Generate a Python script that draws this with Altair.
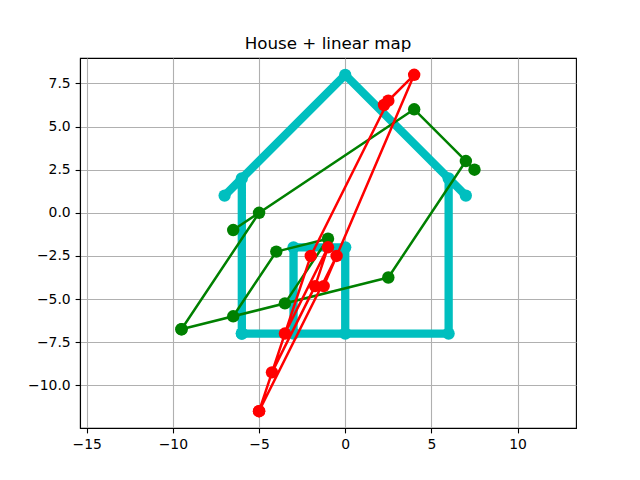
import altair as alt
import pandas as pd

house_x = [-6, -6, -7, 0, 7, 6, 6, -3, -3, 0, 0, -6]
house_y = [-7, 2, 1, 8, 1, 2, -7, -7, -2, -2, -7, -7]

green_x = [-9.5, -5, -6.5, 4, 7.5, 7, 2.5, -6.5, -4, -1, -3.5, -9.5]
green_y = [-6.75, 0, -1, 6, 2.5, 3, -3.75, -6, -2.25, -1.5, -5.25, -6.75]

red_x = [-5, -0.5, -1.25, 4, 2.25, 2.5, -2, -4.25, -1.75, -1, -3.5, -5]
red_y = [-11.5, -2.5, -4.25, 8, 6.25, 6.5, -2.5, -9.25, -4.25, -2, -7, -11.5]

x_ticks = [-15, -10, -5, 0, 5, 10]
y_ticks = [-10, -7.5, -5, -2.5, 0, 2.5, 5, 7.5]

x_dom = [-15.39, 13.39]
y_dom = [-12.475, 8.975]

def frame(xs, ys):
    return pd.DataFrame({"i": list(range(len(xs))), "x": xs, "y": ys})

xenc = alt.X("x:Q", scale=alt.Scale(domain=x_dom, nice=False, zero=False),
             axis=alt.Axis(values=x_ticks, title=None,
                           labelExpr="replace(format(datum.value, 'd'), '-', '\u2212')"))
yenc = alt.Y("y:Q", scale=alt.Scale(domain=y_dom, nice=False, zero=False),
             axis=alt.Axis(values=y_ticks, title=None,
                           labelExpr="replace(format(datum.value, '.1f'), '-', '\u2212')"))

def series(xs, ys, color, lw, msize):
    base = alt.Chart(frame(xs, ys))
    line = base.mark_line(color=color, strokeWidth=lw, strokeJoin="round",
                          strokeCap="square", clip=True).encode(
        x=xenc, y=yenc, order="i:Q")
    pts = base.mark_circle(color=color, opacity=1, size=msize, clip=True).encode(
        x=xenc, y=yenc)
    return [line, pts]

layers = (series(house_x, house_y, "#00BFBF", 8.3, 150)
          + series(green_x, green_y, "#008000", 2.5, 155)
          + series(red_x, red_y, "#FF0000", 2.5, 155))

chart = alt.layer(*layers).properties(
    width=496, height=370,
    autosize=alt.AutoSizeParams(type="none"),
    padding={"left": 72, "top": 50, "right": 50, "bottom": 40},
    title=alt.TitleParams("House + linear map", font="DejaVu Sans", fontSize=16.7,
                          fontWeight="normal", color="black", anchor="middle",
                          baseline="alphabetic", offset=-8),
).configure_view(stroke="black", strokeWidth=1.1).configure_axis(
    labelFont="DejaVu Sans", labelFontSize=13.9, labelColor="black",
    tickColor="black", tickSize=4.9, tickWidth=1.1, labelPadding=4.9,
    domainColor="black", domainWidth=1.1,
    grid=True, gridColor="#b0b0b0", gridWidth=1.1,
)

chart.save("out.html", embed_options={"renderer": "svg", "actions": False})
